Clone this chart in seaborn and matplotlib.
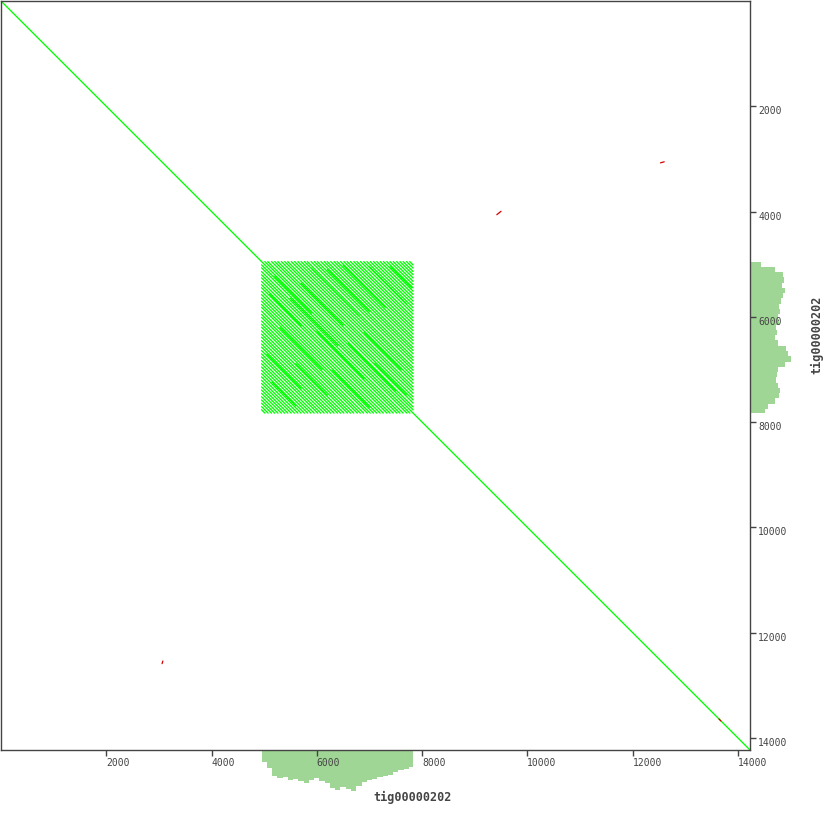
import numpy as np
import pandas as pd
import matplotlib
matplotlib.use("Agg")
import matplotlib.pyplot as plt
import seaborn as sns

# contig self dot plot: tig00000202 vs itself
contig = "tig00000202"
contig_len = 14230

# tandem repeat block (bp) and the diagonal offsets seen inside it
repeat_start = 4950
repeat_end = 7830
repeat_offsets = [62, 118, 190, 251, 309, 377, 440, 497, 566, 628, 690, 752,
                  815, 870, 941, 1003, 1060, 1128, 1190, 1247, 1315, 1378,
                  1436, 1502, 1566, 1625, 1690, 1754, 1812, 1880, 1941, 2003,
                  2066, 2128, 2190, 2255, 2316, 2380, 2441, 2503, 2568, 2630,
                  2690, 2755, 2815]
# shorter partial diagonals (offset, x from, x to) that thicken the block
partial_hits = [(31, 5200, 5900), (150, 5500, 6400), (280, 6000, 6900),
                (470, 5100, 5700), (720, 6300, 7000), (905, 5300, 6100),
                (1290, 5600, 6200), (1660, 5050, 5700), (2090, 5150, 5600),
                (-90, 6600, 7500), (-340, 5700, 6500), (-600, 6900, 7600),
                (-1100, 6200, 7000), (-1480, 6500, 7300), (-1950, 7000, 7700),
                (-2350, 7400, 7800), (-215, 7100, 7700), (-820, 5900, 6800)]

# small reverse-strand hits: x1, y1, x2, y2
rev_hits = [
    (9420, 4060, 9500, 3995),
    (12530, 3075, 12600, 3055),
    (3060, 12590, 3075, 12540),
    (13640, 13640, 13680, 13680),
]

# coverage tracks (100 bp bins over the repeat)
bin_starts = [4950, 5050, 5150, 5250, 5350, 5450, 5550, 5650, 5750, 5850,
              5950, 6050, 6150, 6250, 6350, 6450, 6550, 6650, 6750, 6850,
              6950, 7050, 7150, 7250, 7350, 7450, 7550, 7650, 7750]
bottom_cov = [12, 18, 26, 28, 27, 30, 29, 31, 33, 30, 28, 31, 33, 38, 40,
              37, 39, 41, 36, 32, 30, 29, 27, 26, 25, 22, 20, 19, 17]
right_cov = [11, 25, 33, 34, 32, 35, 33, 31, 29, 30, 28, 29, 26, 27, 25,
             28, 36, 38, 41, 35, 28, 27, 26, 28, 30, 29, 25, 18, 15]

green = "#00ff00"
red = "#d40000"
cov_color = "#a0d695"
ink = "#444444"

# build segments
rows = []
seg = 0
rows += [(seg, 0, 0, "fwd"), (seg, contig_len, contig_len, "fwd")]
seg += 1
for d in repeat_offsets:
    # above and below the main diagonal (self plot is symmetric)
    rows += [(seg, repeat_start, repeat_start + d, "fwd"),
             (seg, repeat_end - d, repeat_end, "fwd")]
    seg += 1
    rows += [(seg, repeat_start + d, repeat_start, "fwd"),
             (seg, repeat_end, repeat_end - d, "fwd")]
    seg += 1
for d, x1, x2 in partial_hits:
    rows += [(seg, x1, x1 + d, "fwd"), (seg, x2, x2 + d, "fwd")]
    seg += 1
for x1, y1, x2, y2 in rev_hits:
    rows += [(seg, x1, y1, "rev"), (seg, x2, y2, "rev")]
    seg += 1
df = pd.DataFrame(rows, columns=["seg", "x", "y", "strand"])

sns.set_style("white")
plt.rcParams["font.family"] = ["DejaVu Sans Mono"]

W = 830.0
fig = plt.figure(figsize=(8.3, 8.3), dpi=100)
ax = fig.add_axes([1 / W, 80 / W, 749 / W, 749 / W])
ax.set_zorder(3)

sns.lineplot(data=df[df.strand == "fwd"], x="x", y="y", units="seg",
             estimator=None, sort=False, color=green, lw=0.95, ax=ax)
sns.lineplot(data=df[df.strand == "rev"], x="x", y="y", units="seg",
             estimator=None, sort=False, color=red, lw=0.9, ax=ax)

ax.set_xlim(0, contig_len)
ax.set_ylim(contig_len, 0)
ax.set_xlabel("")
ax.set_ylabel("")
ticks = [2000, 4000, 6000, 8000, 10000, 12000, 14000]
ax.set_xticks(ticks)
ax.set_yticks(ticks)
ax.xaxis.tick_bottom()
ax.yaxis.tick_right()
ax.tick_params(direction="out", length=4, width=1, color=ink,
               labelsize=7, labelcolor=ink, pad=2)
for lab in ax.get_xticklabels():
    lab.set_ha("left")
for lab in ax.get_yticklabels():
    lab.set_va("top")
for sp in ax.spines.values():
    sp.set_visible(True)
    sp.set_color(ink)
    sp.set_linewidth(1)

edges = bin_starts + [repeat_end]
mids = [s + 50 for s in bin_starts]

# coverage below the x axis
axb = fig.add_axes([1 / W, 30 / W, 749 / W, 50 / W])
sns.histplot(x=mids, weights=bottom_cov, bins=edges, element="step",
             fill=True, color=cov_color, alpha=1, linewidth=0, ax=axb)
axb.set_xlim(0, contig_len)
axb.set_ylim(50, 0)
axb.axis("off")

# coverage right of the y axis
axr = fig.add_axes([750 / W, 80 / W, 50 / W, 749 / W])
sns.histplot(y=mids, weights=right_cov, bins=edges, element="step",
             fill=True, color=cov_color, alpha=1, linewidth=0, ax=axr)
axr.set_ylim(contig_len, 0)
axr.set_xlim(0, 50)
axr.axis("off")

fig.text(413 / W, 1 - 797 / W, contig, ha="center", va="center",
         fontsize=8.5, fontweight="bold", color=ink)
fig.text(817 / W, 1 - 335 / W, contig, ha="center", va="center",
         fontsize=8.5, fontweight="bold", color=ink, rotation=90)

fig.savefig("out.png", dpi=100, facecolor="white")
